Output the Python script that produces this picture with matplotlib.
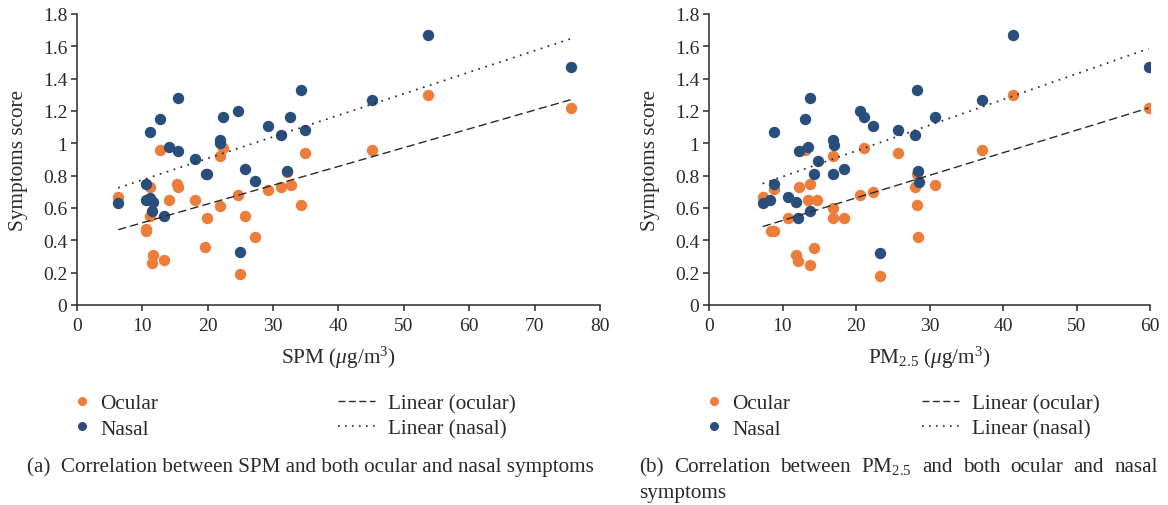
import numpy as np
import matplotlib
matplotlib.use("Agg")
import matplotlib.pyplot as plt
from matplotlib.lines import Line2D
from matplotlib.ticker import FuncFormatter, MultipleLocator

plt.rcParams["font.family"] = "Liberation Serif"
plt.rcParams["mathtext.fontset"] = "custom"
plt.rcParams["mathtext.rm"] = "Liberation Serif"
plt.rcParams["mathtext.it"] = "Liberation Serif:italic"

# (a) SPM vs symptoms score
spm_ocular_x = [6.3, 11.1, 10.6, 10.6, 11.2, 11.6, 11.4, 13.3, 12.7, 15.3, 15.5, 14.1, 18.1, 19.9, 19.6, 21.9,
                21.9, 22.3, 24.6, 25.0, 25.7, 27.2, 29.2, 31.2, 32.1, 32.7, 34.2, 34.9, 45.2, 53.7, 75.5]
spm_ocular_y = [0.67, 0.73, 0.47, 0.46, 0.55, 0.31, 0.26, 0.28, 0.96, 0.75, 0.73, 0.65, 0.65, 0.54, 0.36, 0.61,
                0.92, 0.97, 0.68, 0.19, 0.55, 0.42, 0.71, 0.73, 0.82, 0.74, 0.62, 0.94, 0.96, 1.30, 1.22]
spm_nasal_x = [6.3, 10.6, 10.5, 11.2, 11.6, 11.4, 13.3, 11.1, 12.7, 15.4, 14.1, 15.5, 18.1, 19.7, 19.9, 21.9,
               21.9, 22.3, 24.7, 25.7, 27.2, 25.0, 29.2, 31.2, 32.1, 32.6, 34.2, 34.9, 45.2, 53.7, 75.5]
spm_nasal_y = [0.63, 0.75, 0.65, 0.66, 0.64, 0.58, 0.55, 1.07, 1.15, 1.28, 0.98, 0.95, 0.90, 0.81, 0.81, 1.02,
               1.00, 1.16, 1.20, 0.84, 0.77, 0.33, 1.11, 1.05, 0.83, 1.16, 1.33, 1.08, 1.27, 1.67, 1.47]

# (b) PM2.5 vs symptoms score
pm_ocular_x = [7.3, 8.9, 8.4, 8.9, 10.7, 11.9, 12.1, 12.3, 13.0, 13.8, 13.5, 13.8, 14.3, 14.7, 16.9, 16.9,
               16.9, 18.3, 20.5, 21.1, 22.3, 23.3, 25.7, 28.0, 28.3, 28.3, 28.5, 30.8, 37.1, 41.3, 59.8]
pm_ocular_y = [0.67, 0.72, 0.46, 0.46, 0.54, 0.31, 0.27, 0.73, 0.96, 0.75, 0.65, 0.25, 0.35, 0.65, 0.92, 0.60,
               0.54, 0.54, 0.68, 0.97, 0.70, 0.18, 0.94, 0.73, 0.81, 0.62, 0.42, 0.74, 0.96, 1.30, 1.22]
pm_nasal_x = [7.3, 8.3, 8.9, 8.9, 10.7, 11.9, 12.1, 12.3, 13.0, 13.7, 13.5, 13.8, 14.3, 14.8, 16.9, 17.0,
              16.9, 18.3, 20.5, 21.1, 22.3, 23.3, 25.7, 28.0, 28.3, 28.4, 28.6, 30.8, 37.1, 41.3, 59.8]
pm_nasal_y = [0.63, 0.65, 0.75, 1.07, 0.67, 0.64, 0.54, 0.95, 1.15, 1.28, 0.98, 0.58, 0.81, 0.89, 1.02, 0.99,
              0.81, 0.84, 1.20, 1.16, 1.11, 0.32, 1.08, 1.05, 1.33, 0.83, 0.76, 1.16, 1.27, 1.67, 1.47]

ORANGE = "#EC7D3A"
BLUE = "#294E7B"
INK = "#2a2a2a"
DASH = (0, (6, 3))
DOT = (0, (1, 3.2))

W, H = 1168, 506
fig = plt.figure(figsize=(W / 100, H / 100), dpi=100)


def px_box(x0, x1, y0, y1):
    return [x0 / W, 1 - y1 / H, (x1 - x0) / W, (y1 - y0) / H]


def panel(box, ox, oy, nx, ny, xmax, xlabel):
    ax = fig.add_axes(px_box(*box))
    ax.plot(ox, oy, "o", color=ORANGE, ms=8.2, mew=0, zorder=2)
    ax.plot(nx, ny, "o", color=BLUE, ms=8.2, mew=0, zorder=3)
    # excel style linear trendlines
    for x, y, ls, lw in [(ox, oy, DASH, 1.0), (nx, ny, DOT, 1.25)]:
        k = np.polyfit(x, y, 1)
        xs = np.array([min(x), max(x)])
        ax.plot(xs, np.polyval(k, xs), color=INK, lw=lw, linestyle=ls, zorder=4)
    ax.set_xlim(0, xmax)
    ax.set_ylim(0, 1.8)
    ax.xaxis.set_major_locator(MultipleLocator(10))
    ax.yaxis.set_major_locator(MultipleLocator(0.2))
    ax.yaxis.set_major_formatter(FuncFormatter(lambda v, _: f"{v:g}"))
    for s in ["top", "right"]:
        ax.spines[s].set_visible(False)
    for s in ["left", "bottom"]:
        ax.spines[s].set_color(INK)
        ax.spines[s].set_linewidth(1.1)
    ax.tick_params(colors=INK, labelcolor=INK, width=1.1, length=4, labelsize=14)
    ax.tick_params(axis="x", pad=5)
    ax.tick_params(axis="y", pad=3)
    ax.set_xlabel(xlabel, fontsize=15.3, color=INK, labelpad=7)
    ax.set_ylabel("Symptoms score", fontsize=15.3, color=INK)
    wpx = box[1] - box[0]
    ax.yaxis.set_label_coords(-49 / wpx, 0.5)
    return ax


def legends(mx, lx, cy):
    fs = 15.3
    h1 = [Line2D([], [], ls="none", marker="o", color=ORANGE, ms=6.5, mew=0),
          Line2D([], [], ls="none", marker="o", color=BLUE, ms=6.5, mew=0)]
    h2 = [Line2D([], [], color=INK, lw=1.0, ls=(0, (5, 2.5))),
          Line2D([], [], color=INK, lw=1.2, ls=DOT)]
    fig.legend(h1, ["Ocular", "Nasal"], loc="center left", bbox_to_anchor=(mx / W, 1 - cy / H),
               frameon=False, fontsize=fs, handlelength=0.55, handletextpad=0.6, borderpad=0,
               borderaxespad=0, labelspacing=0.28, labelcolor=INK)
    fig.legend(h2, ["Linear (ocular)", "Linear (nasal)"], loc="center left",
               bbox_to_anchor=(lx / W, 1 - cy / H), frameon=False, fontsize=fs, handlelength=1.75,
               handletextpad=0.6, borderpad=0, borderaxespad=0, labelspacing=0.28, labelcolor=INK)


panel((77, 600, 15, 306), spm_ocular_x, spm_ocular_y, spm_nasal_x, spm_nasal_y, 80,
      "SPM ($\\mu$g/m$^3$)")
panel((709, 1150, 15, 306), pm_ocular_x, pm_ocular_y, pm_nasal_x, pm_nasal_y, 60,
      "PM$_{2.5}$ ($\\mu$g/m$^3$)")
legends(76, 338, 417)
legends(708, 922, 417)

cap_fs = 15.2
fig.text(27 / W, 1 - 467 / H, "(a)  Correlation between SPM and both ocular and nasal symptoms",
         fontsize=cap_fs, color=INK, va="center", ha="left")

# right caption, first line justified between 639 and 1158 px
words = ["(b)", "Correlation", "between", "PM$_{2.5}$", "and", "both", "ocular", "and", "nasal"]
texts = [fig.text(0, 1 - 472 / H, w, fontsize=cap_fs, color=INK, va="baseline") for w in words]
fig.canvas.draw()
r = fig.canvas.get_renderer()
widths = [t.get_window_extent(r).width for t in texts]
gap = (1158 - 639 - sum(widths)) / (len(words) - 1)
x = 639
for t, w in zip(texts, widths):
    t.set_x(x / W)
    x += w + gap
fig.text(639 / W, 1 - 498 / H, "symptoms", fontsize=cap_fs, color=INK, va="baseline")

fig.savefig("out.png", dpi=100)
